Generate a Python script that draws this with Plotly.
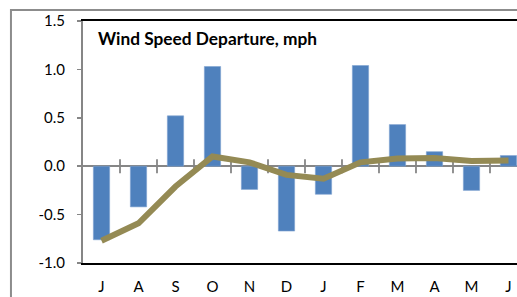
import plotly.graph_objects as go

months = ["J", "A", "S", "O", "N", "D", "J", "F", "M", "A", "M", "J"]
monthly_departure = [-0.76, -0.42, 0.52, 1.03, -0.24, -0.67, -0.29, 1.04, 0.43, 0.15, -0.25, 0.11]
running_mean = [-0.77, -0.59, -0.21, 0.10, 0.04, -0.09, -0.13, 0.04, 0.08, 0.085, 0.055, 0.06]
y_ticks = [-1.0, -0.5, 0.0, 0.5, 1.0, 1.5]
title_text = "Wind Speed Departure, mph"

x_idx = list(range(len(months)))
boundaries = [i + 0.5 for i in x_idx[:-1]]

FONT = "Lato, Open Sans, sans-serif"

fig = go.Figure()
fig.add_trace(go.Bar(
    x=x_idx, y=monthly_departure, width=0.44,
    marker=dict(color="#4F81BD", line=dict(color="#7FA3D0", width=0.6)),
    hoverinfo="skip", showlegend=False,
))
# category-boundary tick crosses on the zero line
fig.add_trace(go.Scatter(
    x=boundaries, y=[0] * len(boundaries), mode="markers",
    marker=dict(symbol="line-ns", size=10, line=dict(color="#868686", width=1.8)),
    hoverinfo="skip", showlegend=False,
))
fig.add_trace(go.Scatter(
    x=x_idx, y=running_mean, mode="lines",
    line=dict(color="#948A54", width=6),
    hoverinfo="skip", showlegend=False,
))

fig.update_layout(
    width=517, height=297,
    margin=dict(l=83, r=0, t=21, b=34, autoexpand=False),
    paper_bgcolor="white", plot_bgcolor="white",
    font=dict(family=FONT, size=15, color="#000000"),
    bargap=0,
    hovermode=False,
    xaxis=dict(
        range=[-0.5, 11.23], tickmode="array", tickvals=x_idx, ticktext=months,
        showgrid=False, zeroline=False, showline=True, mirror=True,
        linecolor="#000000", linewidth=2, ticks="", ticklabelstandoff=9,
        tickfont=dict(size=15, family=FONT), automargin=False,
    ),
    yaxis=dict(
        range=[-1.0, 1.5], tickmode="array", tickvals=y_ticks,
        ticktext=[f"{v:.1f}" for v in y_ticks],
        showgrid=False, zeroline=True, zerolinecolor="#868686", zerolinewidth=2,
        showline=True, linecolor="#868686", linewidth=2,
        ticks="outside", ticklen=4, tickcolor="#868686", tickwidth=1.5,
        ticklabelstandoff=9, tickfont=dict(size=15, family=FONT), automargin=False,
    ),
    shapes=[dict(
        type="rect", xref="paper", yref="paper",
        x0=-0.166, x1=1.1, y0=-0.3, y1=1.0455,
        line=dict(color="#8C8C8C", width=2), fillcolor="rgba(0,0,0,0)", layer="below",
    )],
    annotations=[dict(
        text="<b>" + title_text + "</b>", xref="paper", yref="paper",
        x=(96 - 83) / 434, y=(263 - 39) / 242, xanchor="left", yanchor="middle",
        showarrow=False, font=dict(size=17.3, family=FONT, color="#000000"),
    )],
)

fig.write_html(
    "out.html",
    config={"displayModeBar": False, "staticPlot": True},
    post_script="document.body.style.margin='0px';document.body.style.overflow='hidden';",
)
